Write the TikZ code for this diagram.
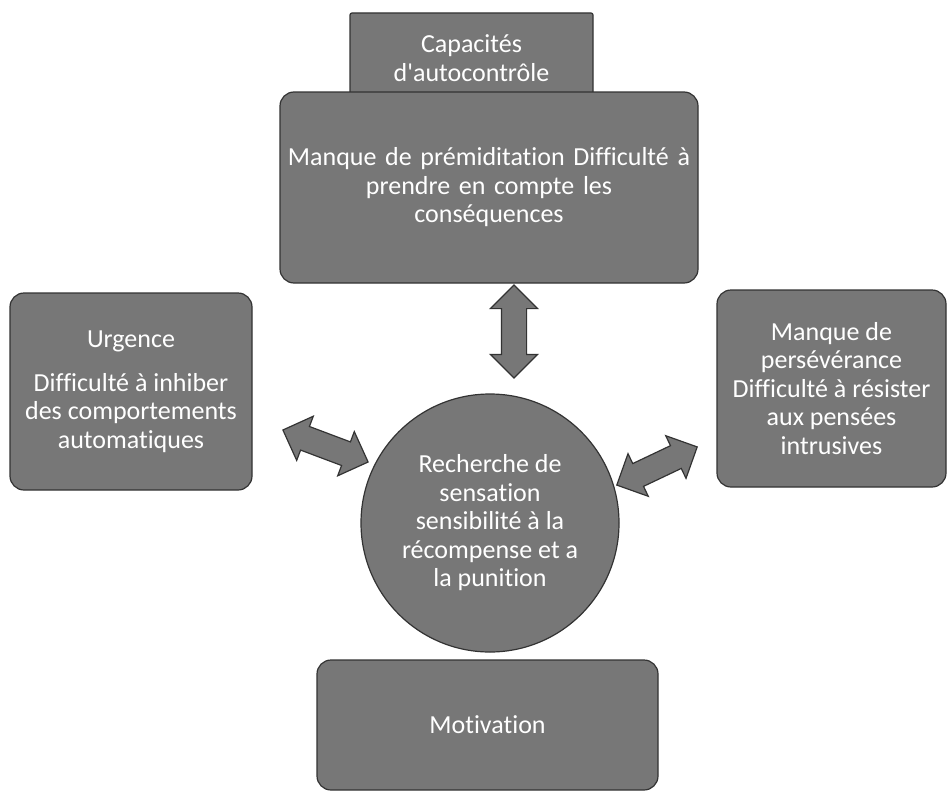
\documentclass[tikz,border=0pt]{standalone}
\usepackage{fontspec}
\setmainfont{Carlito}[Ligatures={TeX,NoCommon}]
\usetikzlibrary{shapes.arrows}
\definecolor{boxfill}{HTML}{777777}
\definecolor{boxline}{HTML}{333333}
\begin{document}
\begin{tikzpicture}[x=1pt,y=-1pt,
  every node/.style={inner sep=0pt, outer sep=0pt},
  block/.style={fill=boxfill, draw=boxline, line width=1.2pt,
    text=white, align=center, font=\fontsize{26}{28.5}\selectfont},
  roundbox/.style={block, rectangle, rounded corners=14pt},
  bigarrow/.style={double arrow, fill=boxfill, draw=boxline, line width=1.2pt,
    inner xsep=0pt, inner ysep=12pt, minimum width=46pt,
    double arrow head extend=11pt, double arrow tip angle=90}]
\useasboundingbox (0,0) rectangle (949,792);

% title tab, drawn first so the main box covers its lower edge
\node[block, rectangle, rounded corners=2pt, minimum width=243pt, minimum height=90pt]
  (cap) at (471.5,58) {Capacités\\d\textquotesingle autocontrôle};

\node[roundbox, minimum width=418pt, minimum height=191pt, text width=410pt]
  (prem) at (489,187.5) {Manque de prémiditation Difficulté à\\prendre en compte les\\conséquences};

\node[roundbox, minimum width=242pt, minimum height=197pt]
  (urg) at (131,391.5) {Urgence\\[15pt]Difficulté à inhiber\\des comportements\\automatiques};

\node[roundbox, minimum width=229pt, minimum height=197pt]
  (pers) at (831.5,388.5) {Manque de\\persévérance\\Difficulté à résister\\aux pensées\\intrusives};

\node[block, circle, minimum size=258pt]
  (rech) at (490,523) {Recherche de\\sensation\\sensibilité à la\\récompense et a\\la punition};

\node[roundbox, minimum width=341pt, minimum height=130pt]
  (moti) at (487.5,725) {Motivation};

% two-headed block arrows around the central circle
\node[bigarrow, rotate=90, minimum height=93pt] (aup) at (514,331.5) {};
\node[bigarrow, rotate=-20.6, minimum height=91pt] (aleft) at (325.5,446) {};
\node[bigarrow, rotate=25.4, minimum height=89pt] (aright) at (657,466) {};
\end{tikzpicture}
\end{document}
